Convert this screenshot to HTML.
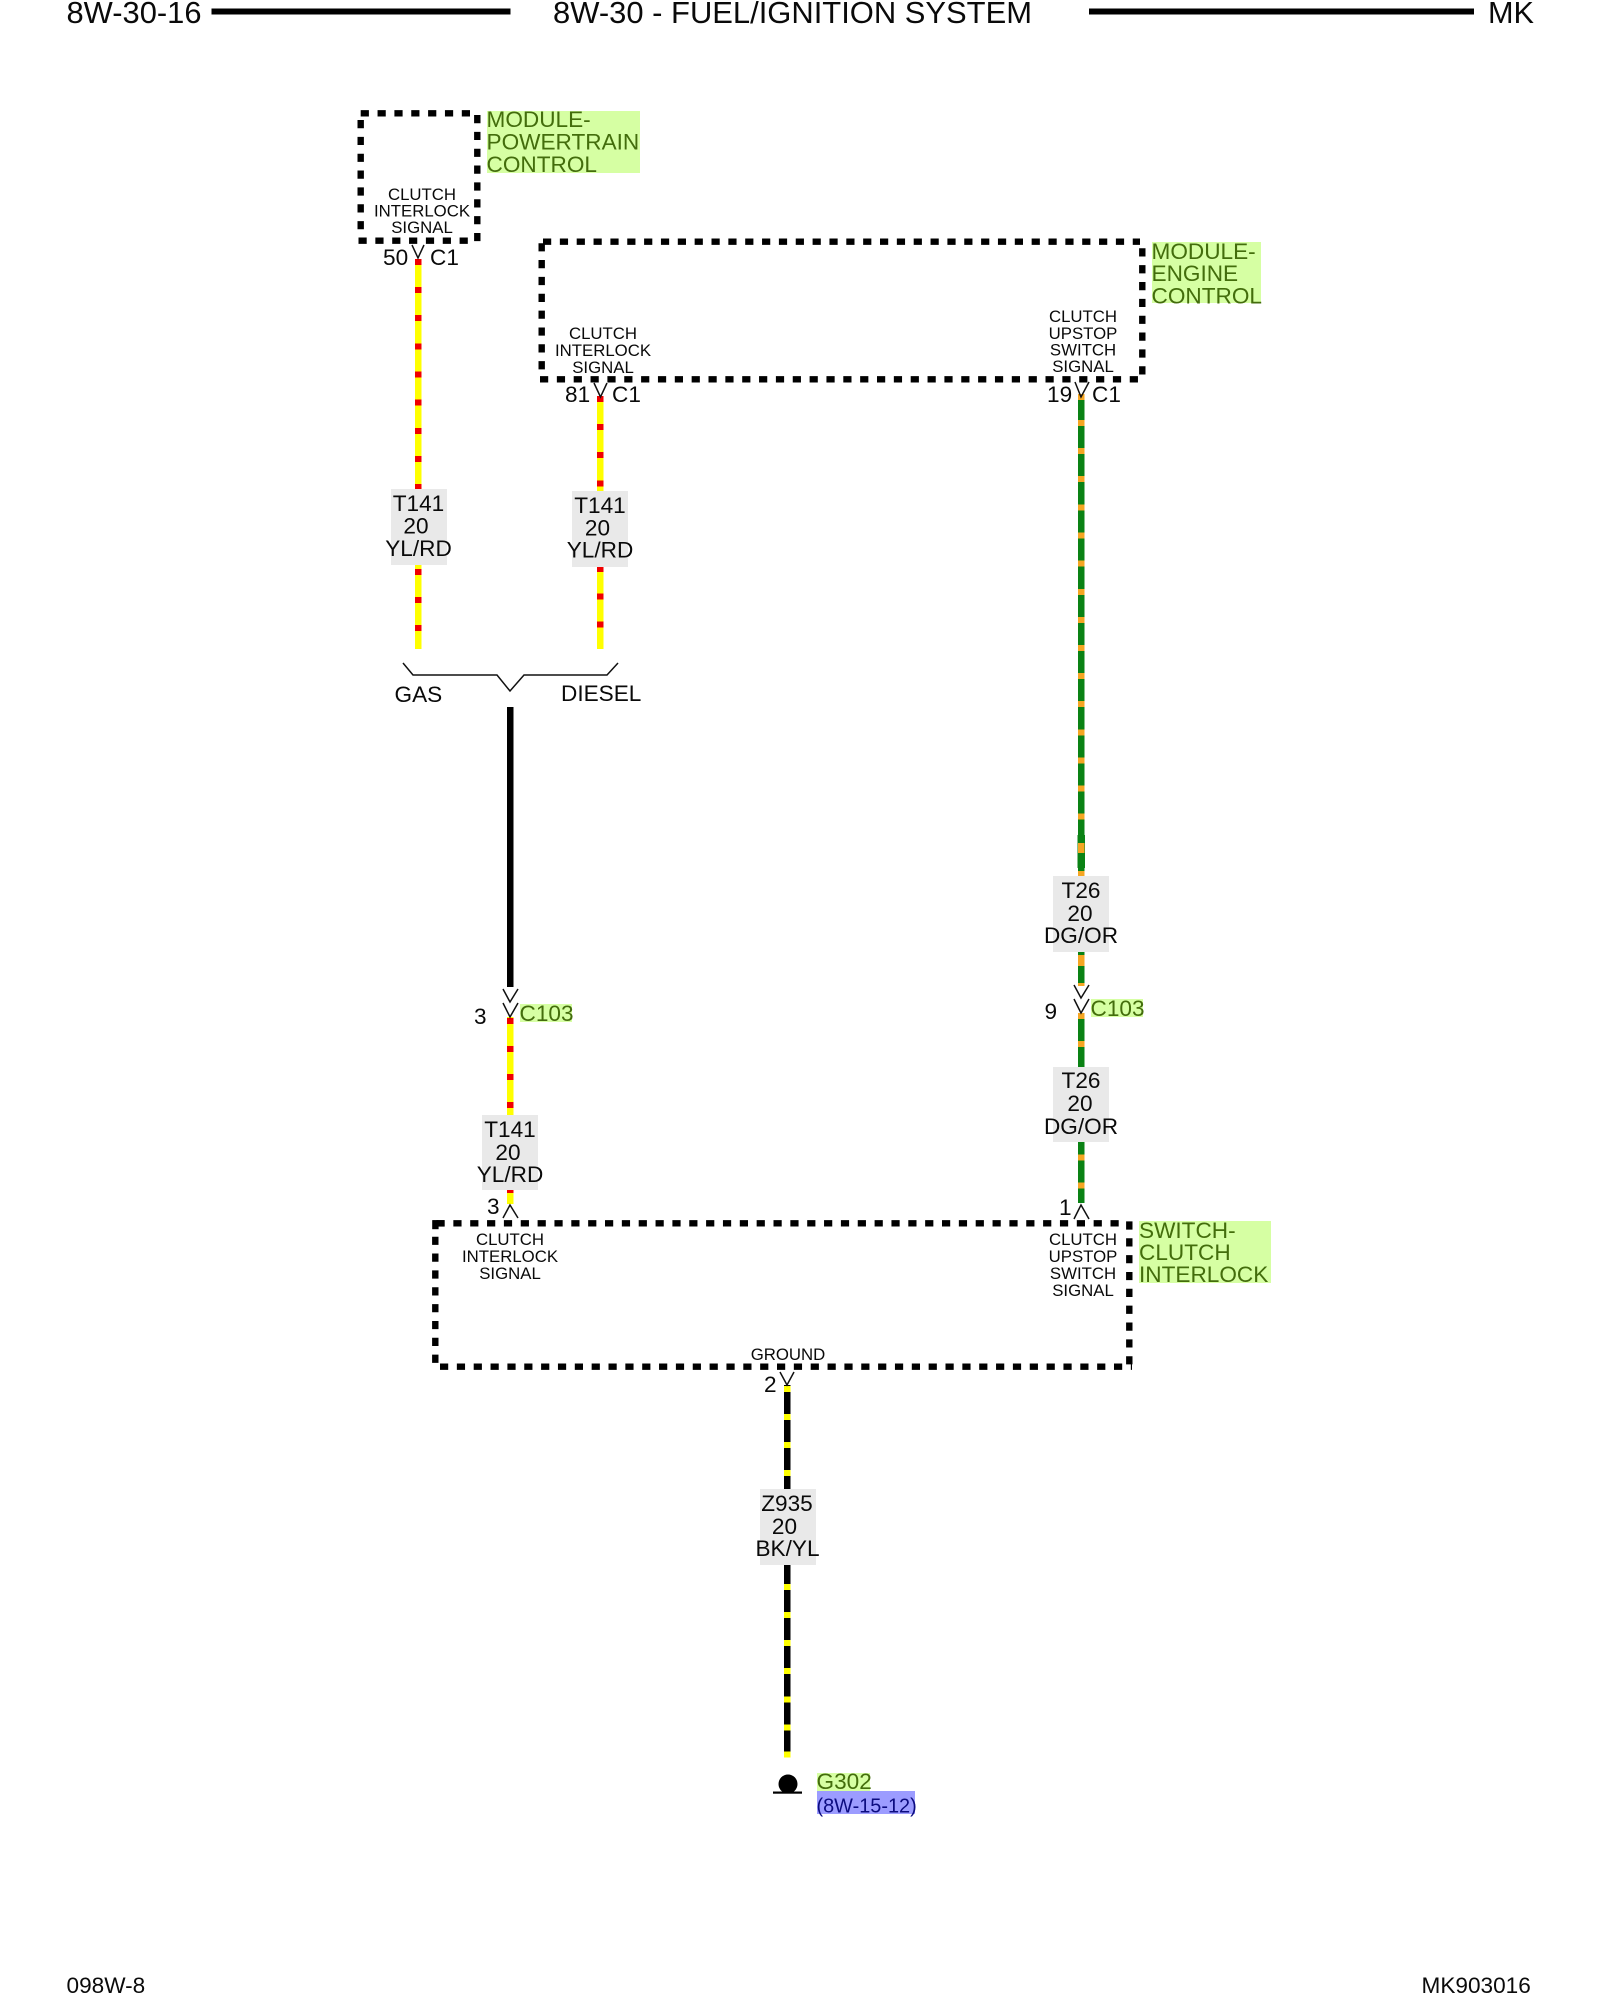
<!DOCTYPE html>
<html><head><meta charset="utf-8"><style>
html,body{margin:0;padding:0;background:#fff}
svg{display:block}
text{font-family:"Liberation Sans",sans-serif;font-size:22.6px;fill:#0a0a0a}
.s{font-size:16.8px;text-anchor:middle}
.g{fill:#436d0c}
.h{font-size:31px}
.c{fill:none;stroke:#111;stroke-width:1.5}
.b{fill:none;stroke:#000;stroke-width:6.4;stroke-dasharray:8.2 8.65}
.t{text-anchor:middle}
</style></head><body>
<svg width="1600" height="2000" viewBox="0 0 1600 2000" xmlns="http://www.w3.org/2000/svg">
<rect width="1600" height="2000" fill="#fff"/>

<!-- header -->
<text class="h" x="66.5" y="23" textLength="135" lengthAdjust="spacingAndGlyphs">8W-30-16</text>
<rect x="211.5" y="8.5" width="299" height="6" fill="#000"/>
<text class="h" x="553" y="23" textLength="479" lengthAdjust="spacingAndGlyphs">8W-30 - FUEL/IGNITION SYSTEM</text>
<rect x="1089" y="8.5" width="385" height="6" fill="#000"/>
<text class="h" x="1488" y="23" textLength="46" lengthAdjust="spacingAndGlyphs">MK</text>

<!-- label backgrounds -->
<g fill="#d6ffa3">
<rect x="487" y="111" width="153" height="62"/>
<rect x="1152" y="242" width="109" height="61"/>
<rect x="1139" y="1221" width="132" height="62"/>
<rect x="520" y="1004" width="52" height="18"/>
<rect x="1091" y="999" width="52" height="18"/>
<rect x="817" y="1773" width="53" height="18"/>
</g>
<rect x="817" y="1791" width="98" height="23" fill="#9c9cff"/>

<!-- dashed boxes -->
<path class="b" d="M360.7 113.3H476"/>
<path class="b" d="M477.3 115V243"/>
<path class="b" d="M360.7 120V233"/>
<path class="b" d="M358.5 240.7H472"/>

<path class="b" d="M543 241.7H1140"/>
<path class="b" d="M1142.3 248.3V378"/>
<path class="b" d="M541.7 243.2V371"/>
<path class="b" d="M540 379.3H1140"/>

<path class="b" d="M436.5 1223.3H1120"/>
<path class="b" d="M1129.3 1221.4V1370"/>
<path class="b" d="M435.3 1236.7V1364"/>
<path class="b" d="M440 1366.7H1132"/>
<rect x="432.5" y="1220.2" width="12" height="6.4" fill="#000"/>
<rect x="432.2" y="1220.2" width="6.4" height="9" fill="#000"/>

<!-- yellow/red wires -->
<rect x="415" y="259" width="6.5" height="390" fill="#ffff00"/>
<rect x="597" y="397" width="6.5" height="252" fill="#ffff00"/>
<rect x="507" y="1017" width="6.5" height="187" fill="#ffff00"/>
<g fill="#f00000">
<rect x="415" y="259" width="6.5" height="6"/><rect x="415" y="287" width="6.5" height="6"/><rect x="415" y="315" width="6.5" height="6"/><rect x="415" y="343.5" width="6.5" height="6"/><rect x="415" y="371.5" width="6.5" height="6"/><rect x="415" y="399.5" width="6.5" height="6"/><rect x="415" y="428" width="6.5" height="6"/><rect x="415" y="456" width="6.5" height="6"/><rect x="415" y="484" width="6.5" height="5"/><rect x="415" y="569" width="6.5" height="6"/><rect x="415" y="597" width="6.5" height="6"/><rect x="415" y="625" width="6.5" height="6"/>
<rect x="597" y="396" width="6.5" height="6"/><rect x="597" y="424" width="6.5" height="6"/><rect x="597" y="452" width="6.5" height="6"/><rect x="597" y="480.5" width="6.5" height="6"/><rect x="597" y="566" width="6.5" height="6"/><rect x="597" y="593.5" width="6.5" height="6"/><rect x="597" y="621.5" width="6.5" height="6"/>
<rect x="507" y="1018" width="6.5" height="6"/><rect x="507" y="1046" width="6.5" height="6"/><rect x="507" y="1074" width="6.5" height="6"/><rect x="507" y="1102" width="6.5" height="6"/><rect x="507" y="1190" width="6.5" height="3"/>
</g>

<!-- black wires -->
<rect x="507" y="707" width="6.5" height="280" fill="#000"/>
<rect x="784" y="1385" width="6.5" height="372" fill="#000"/>
<g fill="#ffff00">
<rect x="784" y="1386" width="6.5" height="6"/><rect x="784" y="1414" width="6.5" height="6"/><rect x="784" y="1442" width="6.5" height="6"/><rect x="784" y="1470" width="6.5" height="6"/><rect x="784" y="1584" width="6.5" height="6"/><rect x="784" y="1612" width="6.5" height="6"/><rect x="784" y="1640" width="6.5" height="6"/><rect x="784" y="1668" width="6.5" height="6"/><rect x="784" y="1696.5" width="6.5" height="6"/><rect x="784" y="1724.5" width="6.5" height="6"/><rect x="784" y="1751.5" width="6.5" height="6"/>
</g>

<!-- green wire -->
<rect x="1078" y="397" width="6.5" height="588" fill="#0a8214"/>
<rect x="1077.5" y="835" width="7.5" height="33" fill="#0a8214"/>
<rect x="1078" y="1013" width="6.5" height="190" fill="#0a8214"/>
<g fill="#f5a623">
<rect x="1078" y="394" width="6.5" height="6"/><rect x="1078" y="420" width="6.5" height="6"/><rect x="1078" y="448" width="6.5" height="6"/><rect x="1078" y="476" width="6.5" height="6"/><rect x="1078" y="504.5" width="6.5" height="6"/><rect x="1078" y="532.5" width="6.5" height="6"/><rect x="1078" y="560.5" width="6.5" height="6"/><rect x="1078" y="589" width="6.5" height="6"/><rect x="1078" y="617" width="6.5" height="6"/><rect x="1078" y="645" width="6.5" height="6"/><rect x="1078" y="673" width="6.5" height="6"/><rect x="1078" y="701" width="6.5" height="6"/><rect x="1078" y="729.5" width="6.5" height="6"/><rect x="1078" y="757.5" width="6.5" height="6"/><rect x="1078" y="785.5" width="6.5" height="6"/><rect x="1078" y="813.5" width="6.5" height="6"/>
<rect x="1078" y="843" width="6.5" height="10"/><rect x="1078" y="871" width="6.5" height="5"/>
<rect x="1078" y="955" width="6.5" height="11"/><rect x="1078" y="983" width="6.5" height="3"/>
<rect x="1078" y="1013" width="6.5" height="6"/><rect x="1078" y="1041" width="6.5" height="6"/>
<rect x="1078" y="1154.5" width="6.5" height="6"/><rect x="1078" y="1182.5" width="6.5" height="6"/>
</g>

<!-- grey tag backgrounds -->
<g fill="#e9e9e9">
<rect x="391" y="489" width="56" height="76"/>
<rect x="572" y="491" width="56" height="76"/>
<rect x="482" y="1115" width="56" height="75"/>
<rect x="1053" y="876" width="56" height="76"/>
<rect x="1053" y="1067" width="56" height="75"/>
<rect x="760" y="1489" width="56" height="76"/>
</g>

<!-- chevrons -->
<path class="c" d="M412 245L418 258L424 245"/>
<path class="c" d="M594 383L600.5 397L607 383"/>
<path class="c" d="M1075 382L1081 397L1089 382"/>
<path class="c" d="M503 989L510 1002L518 989M503 1003L510 1017L518 1003"/>
<path class="c" d="M1074 985L1081 998L1089 985M1074 999L1081 1013L1089 999"/>
<path class="c" d="M503 1218L510 1205L518 1218"/>
<path class="c" d="M1074 1219L1081 1205L1089 1219"/>
<path class="c" d="M780 1372L787 1385L794 1372"/>
<path fill="none" stroke="#111" stroke-width="1.5" d="M403 663L413 675H497L510 691L524 675H607L618 663"/>

<!-- small signal labels -->
<text class="s" x="422" y="200">CLUTCH</text><text class="s" x="422" y="216.5">INTERLOCK</text><text class="s" x="422" y="233">SIGNAL</text>
<text class="s" x="603" y="339">CLUTCH</text><text class="s" x="603" y="356">INTERLOCK</text><text class="s" x="603" y="373">SIGNAL</text>
<text class="s" x="1083" y="322">CLUTCH</text><text class="s" x="1083" y="339">UPSTOP</text><text class="s" x="1083" y="355.5">SWITCH</text><text class="s" x="1083" y="372">SIGNAL</text>
<text class="s" x="510" y="1245">CLUTCH</text><text class="s" x="510" y="1262">INTERLOCK</text><text class="s" x="510" y="1279">SIGNAL</text>
<text class="s" x="1083" y="1245">CLUTCH</text><text class="s" x="1083" y="1262">UPSTOP</text><text class="s" x="1083" y="1279">SWITCH</text><text class="s" x="1083" y="1296">SIGNAL</text>
<text class="s" x="788" y="1360">GROUND</text>

<!-- green labels -->
<text class="g" x="486.5" y="127">MODULE-</text><text class="g" x="486.5" y="149.5">POWERTRAIN</text><text class="g" x="486.5" y="172">CONTROL</text>
<text class="g" x="1151.5" y="259">MODULE-</text><text class="g" x="1151.5" y="281">ENGINE</text><text class="g" x="1151.5" y="303.5">CONTROL</text>
<text class="g" x="1139" y="1238">SWITCH-</text><text class="g" x="1139" y="1260">CLUTCH</text><text class="g" x="1139" y="1282">INTERLOCK</text>
<text class="g" x="519.5" y="1021">C103</text>
<text class="g" x="1090.5" y="1016">C103</text>
<text class="g" x="816.5" y="1789">G302</text>
<text x="816.5" y="1812.5" style="fill:#0c0c80;font-size:19.9px">(8W-15-12)</text>

<!-- pins -->
<text x="383" y="265">50</text><text x="430" y="265">C1</text>
<text x="565" y="402">81</text><text x="612" y="402">C1</text>
<text x="1047" y="402">19</text><text x="1092" y="402">C1</text>
<text x="474" y="1024">3</text>
<text x="1044.5" y="1019">9</text>
<text x="487" y="1214">3</text>
<text x="1059" y="1215">1</text>
<text x="764" y="1392">2</text>

<!-- wire tags -->
<text class="t" x="418.5" y="511">T141</text><text class="t" x="416" y="533.5">20</text><text class="t" x="418.5" y="556">YL/RD</text>
<text class="t" x="600" y="513">T141</text><text class="t" x="597.5" y="535.5">20</text><text class="t" x="600" y="557.5">YL/RD</text>
<text class="t" x="510" y="1137">T141</text><text class="t" x="508" y="1160">20</text><text class="t" x="510" y="1182">YL/RD</text>
<text class="t" x="1081" y="898">T26</text><text class="t" x="1080" y="921">20</text><text class="t" x="1081" y="943">DG/OR</text>
<text class="t" x="1081" y="1088">T26</text><text class="t" x="1080" y="1111">20</text><text class="t" x="1081" y="1134">DG/OR</text>
<text class="t" x="787" y="1511">Z935</text><text class="t" x="784.5" y="1534">20</text><text class="t" x="787.5" y="1556">BK/YL</text>

<text x="394.5" y="702">GAS</text>
<text x="561" y="701">DIESEL</text>

<!-- ground symbol -->
<circle cx="788" cy="1784" r="9.5" fill="#000"/>
<rect x="773" y="1791.5" width="29" height="2.2" fill="#000"/>

<!-- footer -->
<text x="66.5" y="1993">098W-8</text>
<text x="1421.5" y="1993">MK903016</text>
</svg>
</body></html>
